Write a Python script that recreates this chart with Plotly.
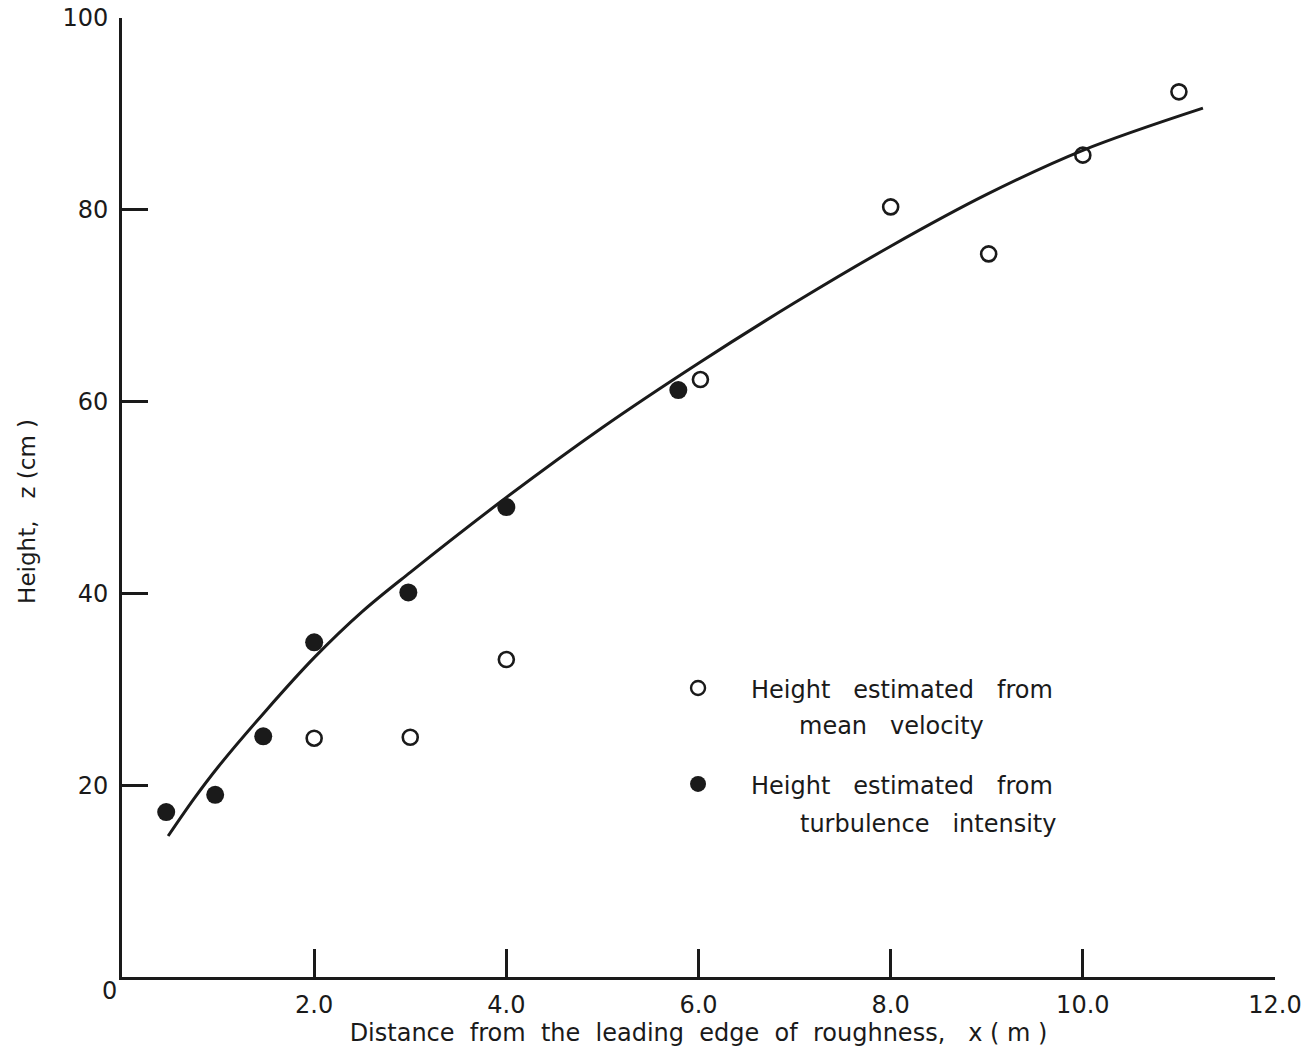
import plotly.graph_objects as go

# Height of the internal boundary layer vs. distance from the roughness edge
x_mean_vel = [2.0, 3.0, 4.0, 6.02, 8.0, 9.02, 10.0, 11.0]
z_mean_vel = [24.9, 25.0, 33.1, 62.3, 80.3, 75.4, 85.7, 92.3]

x_turb = [0.46, 0.97, 1.47, 2.0, 2.98, 4.0, 5.79]
z_turb = [17.2, 19.0, 25.1, 34.9, 40.1, 49.0, 61.2]

# Fitted growth curve (sampled along the drawn line)
x_fit = [0.48, 0.75, 1.0, 1.5, 2.0, 2.5, 3.0, 4.0, 5.0, 6.0, 7.0, 8.0, 9.0, 10.0, 11.25]
z_fit = [14.7, 18.6, 21.9, 27.8, 33.3, 38.1, 42.2, 50.0, 57.3, 64.0, 70.3, 76.2, 81.6, 86.2, 90.6]

x_ticks = [2, 4, 6, 8, 10, 12]
x_tick_text = ["2.0", "4.0", "6.0", "8.0", "10.0", "12.0"]
y_ticks = [20, 40, 60, 80, 100]
y_tick_text = ["20", "40", "60", "80", "100"]

FONT = "DejaVu Sans"
INK = "#1a1a1a"

fig = go.Figure()

fig.add_trace(go.Scatter(
    x=x_fit, y=z_fit, mode="lines",
    line=dict(color=INK, width=3, shape="spline", smoothing=1.0),
    hoverinfo="skip", showlegend=False,
))
fig.add_trace(go.Scatter(
    x=x_mean_vel, y=z_mean_vel, mode="markers",
    marker=dict(symbol="circle-open", size=15, color=INK, line=dict(width=2.6, color=INK)),
    name="Height estimated from mean velocity", showlegend=False,
))
fig.add_trace(go.Scatter(
    x=x_turb, y=z_turb, mode="markers",
    marker=dict(symbol="circle", size=18, color=INK, line=dict(width=0)),
    name="Height estimated from turbulence intensity", showlegend=False,
))

# Key: symbols drawn as pixel-sized circles anchored in paper space
def key_circle(px, py, filled):
    r = 8 if filled else 7
    return dict(
        type="circle", xref="paper", yref="paper",
        xsizemode="pixel", ysizemode="pixel",
        xanchor=px, yanchor=py,
        x0=-r, x1=r, y0=-r, y1=r,
        line=dict(color=INK, width=0 if filled else 2.4),
        fillcolor=INK if filled else "rgba(0,0,0,0)",
    )

shapes = [key_circle(0.4996, 0.3014, False), key_circle(0.4996, 0.2013, True)]

key_font = dict(family=FONT, size=24, color=INK)
key_lines = [
    ("Height   estimated   from", 0.6763, 0.2993),
    ("mean   velocity", 0.6678, 0.2617),
    ("Height   estimated   from", 0.6763, 0.1992),
    ("turbulence   intensity", 0.6990, 0.1596),
]
annotations = [
    dict(text=t, x=px, y=py, xref="paper", yref="paper",
         xanchor="center", yanchor="middle", showarrow=False, font=key_font)
    for t, px, py in key_lines
]
# origin label
annotations.append(dict(text="0", x=0, y=0, xref="paper", yref="paper",
                        xanchor="center", yanchor="middle", xshift=-13, yshift=-14,
                        showarrow=False, font=dict(family=FONT, size=24, color=INK)))
# vertical axis title
annotations.append(dict(text="Height,   z (cm )", x=0, y=0.485, xref="paper", yref="paper",
                        xanchor="center", yanchor="middle", xshift=-95, textangle=-90,
                        showarrow=False, font=dict(family=FONT, size=23, color=INK)))

fig.update_layout(
    width=1312, height=1052,
    margin=dict(l=122, r=37, t=18, b=75, autoexpand=False),
    paper_bgcolor="white", plot_bgcolor="white",
    font=dict(family=FONT, size=24, color=INK),
    shapes=shapes, annotations=annotations,
    xaxis=dict(
        range=[0, 12], tickvals=x_ticks, ticktext=x_tick_text,
        ticks="inside", ticklen=28, tickwidth=2.5, tickcolor=INK,
        showline=True, linewidth=3, linecolor=INK, showgrid=False, zeroline=False,
        ticklabelstandoff=4, automargin=False,
        title=dict(text="Distance  from  the  leading  edge  of  roughness,   x ( m )",
                   font=dict(family=FONT, size=24, color=INK), standoff=4),
    ),
    yaxis=dict(
        range=[0, 100], tickvals=y_ticks, ticktext=y_tick_text,
        ticks="inside", ticklen=26, tickwidth=2.5, tickcolor=INK,
        showline=True, linewidth=3, linecolor=INK, showgrid=False, zeroline=False,
        ticklabelstandoff=6, automargin=False,
    ),
)

fig.write_html("out.html")
